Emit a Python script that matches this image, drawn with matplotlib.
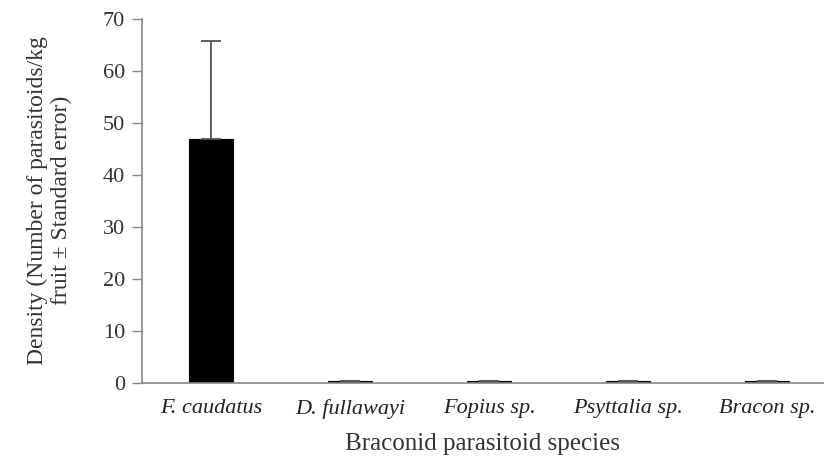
import numpy as np
import matplotlib
matplotlib.use("Agg")
import matplotlib.pyplot as plt

species = ["F. caudatus", "D. fullawayi", "Fopius sp.", "Psyttalia sp.", "Bracon sp."]
density = [46.8, 0.3, 0.3, 0.3, 0.3]
std_err = [18.9, 0.0, 0.0, 0.0, 0.0]

plt.rcParams["font.family"] = ["Liberation Serif", "DejaVu Serif"]

fig = plt.figure(figsize=(8.24, 4.59), dpi=100)
ax = fig.add_axes([0.172, 0.166, 0.828, 0.793])

x = np.arange(len(species))
lower = [0] * len(std_err)
ax.bar(x, density, width=0.32, color="black", edgecolor="black", linewidth=0.8,
       yerr=[lower, std_err],
       error_kw=dict(ecolor="#555555", elinewidth=1.3, capsize=7, capthick=1.3))

ax.set_xlim(-0.5, 4.41)
ax.set_ylim(0, 70)
ax.set_yticks(range(0, 71, 10))
ax.set_xticks(x)
ax.set_xticklabels(species, fontstyle="italic", fontsize=16)
ax.tick_params(axis="x", length=0, pad=12, labelcolor="#222222")
ax.tick_params(axis="y", labelsize=16, length=7, width=1, color="#888888", pad=5,
               labelcolor="#333333")

for side in ["top", "right"]:
    ax.spines[side].set_visible(False)
for side in ["left", "bottom"]:
    ax.spines[side].set_color("#888888")
    ax.spines[side].set_linewidth(1.2)

ax.set_ylabel("Density (Number of parasitoids/kg\nfruit \u00b1 Standard error)",
              fontsize=17, color="#333333", linespacing=1.2, labelpad=22)
ax.set_xlabel("Braconid parasitoid species", fontsize=18, color="#333333", labelpad=10)

fig.savefig("out.png", dpi=100)
